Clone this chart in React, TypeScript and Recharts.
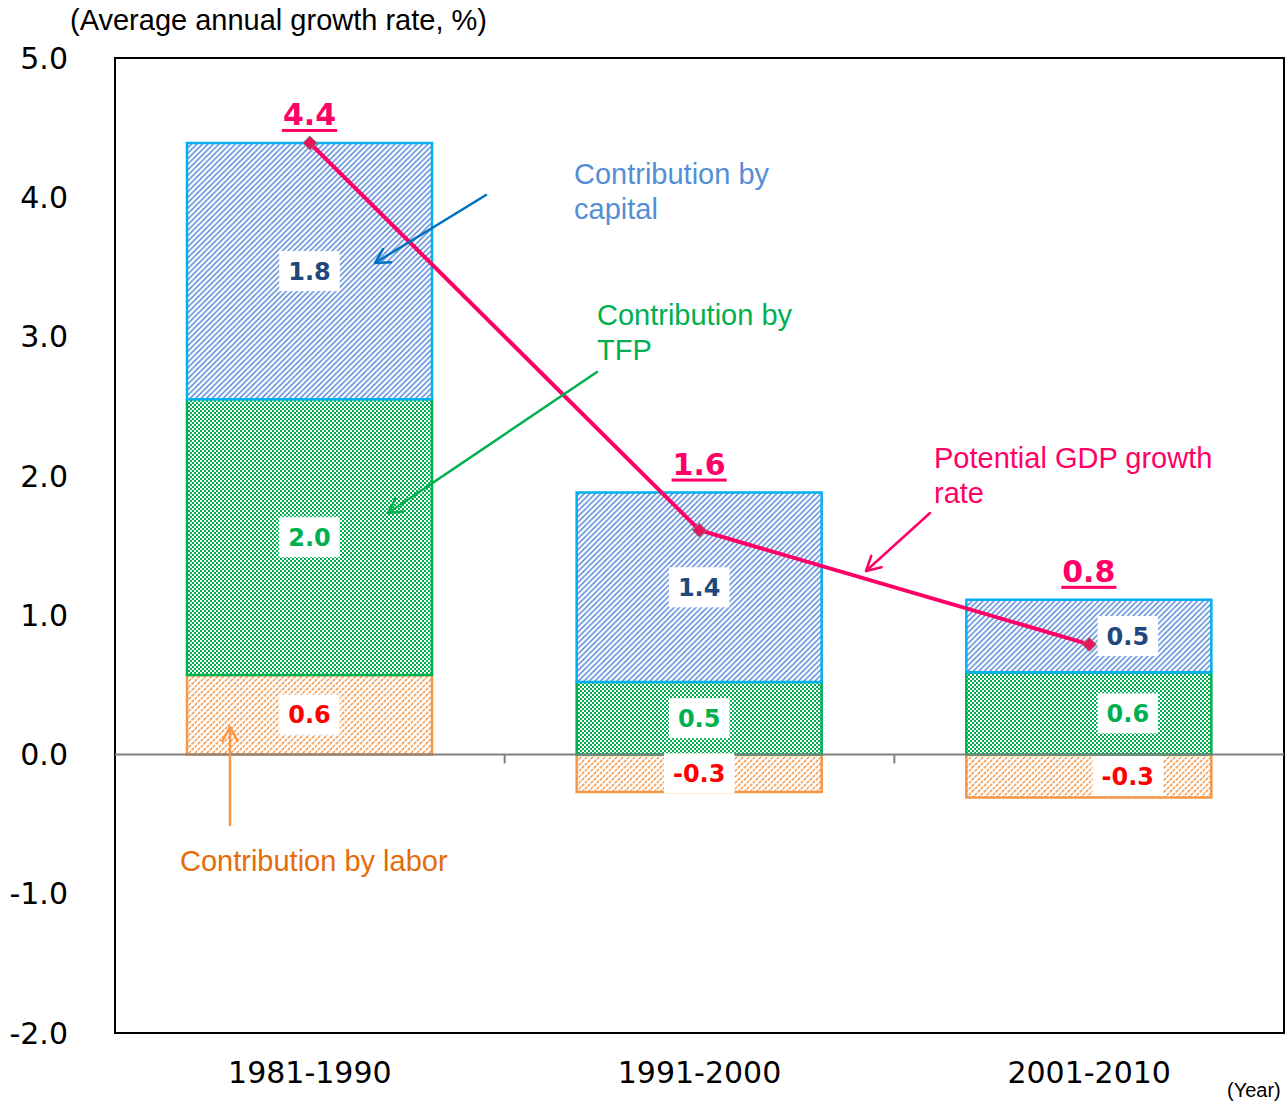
import React from 'react';
import {
  ComposedChart,
  Bar,
  Line,
  XAxis,
  YAxis,
  ReferenceLine,
  ReferenceArea,
  LabelList,
} from 'recharts';

// ---------- data ----------
const periods = ['1981-1990', '1991-2000', '2001-2010'];
const laborContribution = [0.57, -0.27, -0.31];
const tfpContribution = [1.98, 0.52, 0.59];
const capitalContribution = [1.84, 1.36, 0.52];
const potentialGrowth = [4.39, 1.61, 0.79];
const yTicks = [-2, -1, 0, 1, 2, 3, 4, 5];

const data = periods.map((p, i) => ({
  period: p,
  labor: laborContribution[i],
  tfp: tfpContribution[i],
  capital: capitalContribution[i],
  gdp: potentialGrowth[i],
}));

// ---------- styles ----------
const PINK = '#FF0066';
const tickFont = 'DejaVu Sans, Verdana, sans-serif';
const arialFont = 'Liberation Sans, Arial, sans-serif';

const boldWidth = (s: string, fs: number) =>
  s.split('').reduce((acc, c) => acc + (c === '.' ? 0.38 : c === '-' ? 0.415 : 0.696), 0) * fs;

const makeInnerLabel = (values: number[], color: string) => (props: any) => {
  const { x, y, width, height } = props;
  if (x == null || y == null) return null;
  const i: number = props.index ?? 0;
  const v = values[i] ?? props.value;
  const txt = Number(v).toFixed(1);
  const fs = 24;
  const tw = boldWidth(txt, fs);
  const bw = tw + 18;
  const bh = 40;
  const cx = x + width / 2 + (i === periods.length - 1 ? 39 : 0);
  const cy = y + height / 2;
  return (
    <g>
      <rect x={cx - bw / 2} y={cy - bh / 2} width={bw} height={bh} fill="#ffffff" />
      <text
        x={cx}
        y={cy + fs * 0.365}
        textAnchor="middle"
        fontFamily={tickFont}
        fontWeight="bold"
        fontSize={fs}
        fill={color}
      >
        {txt}
      </text>
    </g>
  );
};

const TotalLabel = (props: any) => {
  const { x, y, width } = props;
  if (x == null || y == null) return null;
  const i: number = props.index ?? 0;
  const txt = potentialGrowth[i].toFixed(1);
  const fs = 30;
  const tw = boldWidth(txt, fs);
  const cx = x + width / 2;
  const base = y - 18;
  return (
    <g>
      <text
        x={cx}
        y={base}
        textAnchor="middle"
        fontFamily={tickFont}
        fontWeight="bold"
        fontSize={fs}
        fill={PINK}
      >
        {txt}
      </text>
      <rect x={cx - tw / 2 - 1} y={base + 4} width={tw + 2} height={3} fill={PINK} />
    </g>
  );
};

const Diamond = (props: any) => {
  const { cx, cy, index } = props;
  if (cx == null || cy == null) return <g key={`d${index}`} />;
  const r = 7;
  return (
    <path
      key={`d${index}`}
      d={`M${cx},${cy - r} L${cx + r},${cy} L${cx},${cy + r} L${cx - r},${cy} Z`}
      fill="#E8175D"
      stroke="#808080"
      strokeWidth={1}
    />
  );
};

const ZeroLine = (props: any) => {
  const { x1, y1, x2, y2 } = props;
  if (x1 == null) return null;
  const n = periods.length;
  const marks = [];
  for (let k = 1; k < n; k++) {
    const tx = x1 + ((x2 - x1) * k) / n;
    marks.push(<line key={k} x1={tx} x2={tx} y1={y1} y2={y1 + 9} stroke="#808080" strokeWidth={2} />);
  }
  return (
    <g>
      <line x1={x1} y1={y1} x2={x2} y2={y2} stroke="#808080" strokeWidth={2} />
      {marks}
    </g>
  );
};

const Arrow = ({ x1, y1, x2, y2, color }: any) => {
  const ang = Math.atan2(y2 - y1, x2 - x1);
  const L = 16;
  const spread = 0.5;
  const ax = x2 - L * Math.cos(ang - spread);
  const ay = y2 - L * Math.sin(ang - spread);
  const bx = x2 - L * Math.cos(ang + spread);
  const by = y2 - L * Math.sin(ang + spread);
  return (
    <g stroke={color} strokeWidth={2.5} fill="none" strokeLinecap="round" strokeLinejoin="round">
      <line x1={x1} y1={y1} x2={x2} y2={y2} />
      <path d={`M${ax},${ay} L${x2},${y2} L${bx},${by}`} />
    </g>
  );
};

export default function App() {
  return (
    <div style={{ position: 'absolute', left: 0, top: 0, width: 1286, height: 1102, background: '#fff' }}>
      <ComposedChart
        width={1286}
        height={1102}
        data={data}
        margin={{ top: 58, right: 2, bottom: 39, left: 0 }}
        stackOffset="sign"
        barSize={245}
      >
        <defs>
          <pattern id="capPat" width="5.5" height="5.5" patternUnits="userSpaceOnUse">
            <rect width="5.5" height="5.5" fill="#ffffff" />
            <path
              d="M-1,1 L1,-1 M0,5.5 L5.5,0 M4.5,6.5 L6.5,4.5"
              stroke="#4A7FD6"
              strokeWidth="1.4"
            />
          </pattern>
          <pattern id="tfpPat" width="4" height="4" patternUnits="userSpaceOnUse">
            <rect width="4" height="4" fill="#00B050" />
            <rect x="0" y="0" width="2" height="2" fill="#ffffff" />
            <rect x="2" y="2" width="2" height="2" fill="#ffffff" />
          </pattern>
          <pattern id="labPat" width="6" height="6" patternUnits="userSpaceOnUse">
            <rect width="6" height="6" fill="#ffffff" />
            <path
              d="M-1.5,1.5 L1.5,-1.5 M0,6 L6,0 M4.5,7.5 L7.5,4.5"
              stroke="#F79646"
              strokeWidth="1.5"
              strokeDasharray="3 1"
            />
          </pattern>
        </defs>
        <XAxis
          dataKey="period"
          axisLine={false}
          tickLine={false}
          tickMargin={23}
          tick={{ fontSize: 30, fill: '#000', fontFamily: tickFont }}
        />
        <YAxis
          domain={[-2, 5]}
          ticks={yTicks}
          width={115}
          axisLine={false}
          tickLine={false}
          tickMargin={41}
          interval={0}
          tickFormatter={(v: number) => v.toFixed(1)}
          tick={{ fontSize: 30, fill: '#000', fontFamily: tickFont }}
        />
        <Bar dataKey="labor" stackId="a" fill="url(#labPat)" stroke="#F79646" strokeWidth={2.5} isAnimationActive={false}>
          <LabelList dataKey="labor" content={makeInnerLabel(laborContribution, '#FF0000')} />
        </Bar>
        <Bar dataKey="tfp" stackId="a" fill="url(#tfpPat)" stroke="#00B050" strokeWidth={2.5} isAnimationActive={false}>
          <LabelList dataKey="tfp" content={makeInnerLabel(tfpContribution, '#00B050')} />
        </Bar>
        <Bar dataKey="capital" stackId="a" fill="url(#capPat)" stroke="#00B0F0" strokeWidth={2.5} isAnimationActive={false}>
          <LabelList dataKey="capital" content={makeInnerLabel(capitalContribution, '#1F497D')} />
          <LabelList dataKey="capital" content={TotalLabel} />
        </Bar>
        <ReferenceLine y={0} shape={ZeroLine} />
        <Line
          dataKey="gdp"
          stroke={PINK}
          strokeWidth={4}
          dot={Diamond}
          activeDot={false}
          isAnimationActive={false}
        />
        <ReferenceArea y1={-2} y2={5} fill="none" stroke="#000" strokeWidth={2} fillOpacity={0} />
      </ComposedChart>
      <svg
        width={1286}
        height={1102}
        style={{ position: 'absolute', left: 0, top: 0, pointerEvents: 'none' }}
      >
        <g fontFamily={arialFont} fontSize={29}>
          <text x={70} y={30} fill="#000">(Average annual growth rate, %)</text>
          <text x={574} y={184} fill="#558ED5">Contribution by</text>
          <text x={574} y={219} fill="#558ED5">capital</text>
          <text x={597} y={325} fill="#00B050">Contribution by</text>
          <text x={597} y={360} fill="#00B050">TFP</text>
          <text x={934} y={468} fill={PINK}>Potential GDP growth</text>
          <text x={934} y={503} fill={PINK}>rate</text>
          <text x={180} y={871} fill="#E46C0A">Contribution by labor</text>
          <text x={1227} y={1097} fill="#000" fontSize={20}>(Year)</text>
        </g>
        <Arrow x1={486} y1={195} x2={375} y2={263} color="#0070C0" />
        <Arrow x1={597} y1={372} x2={388} y2={513} color="#00B050" />
        <Arrow x1={930} y1={513} x2={866} y2={571} color={PINK} />
        <Arrow x1={230} y1={825} x2={230} y2={727} color="#F79646" />
      </svg>
    </div>
  );
}
